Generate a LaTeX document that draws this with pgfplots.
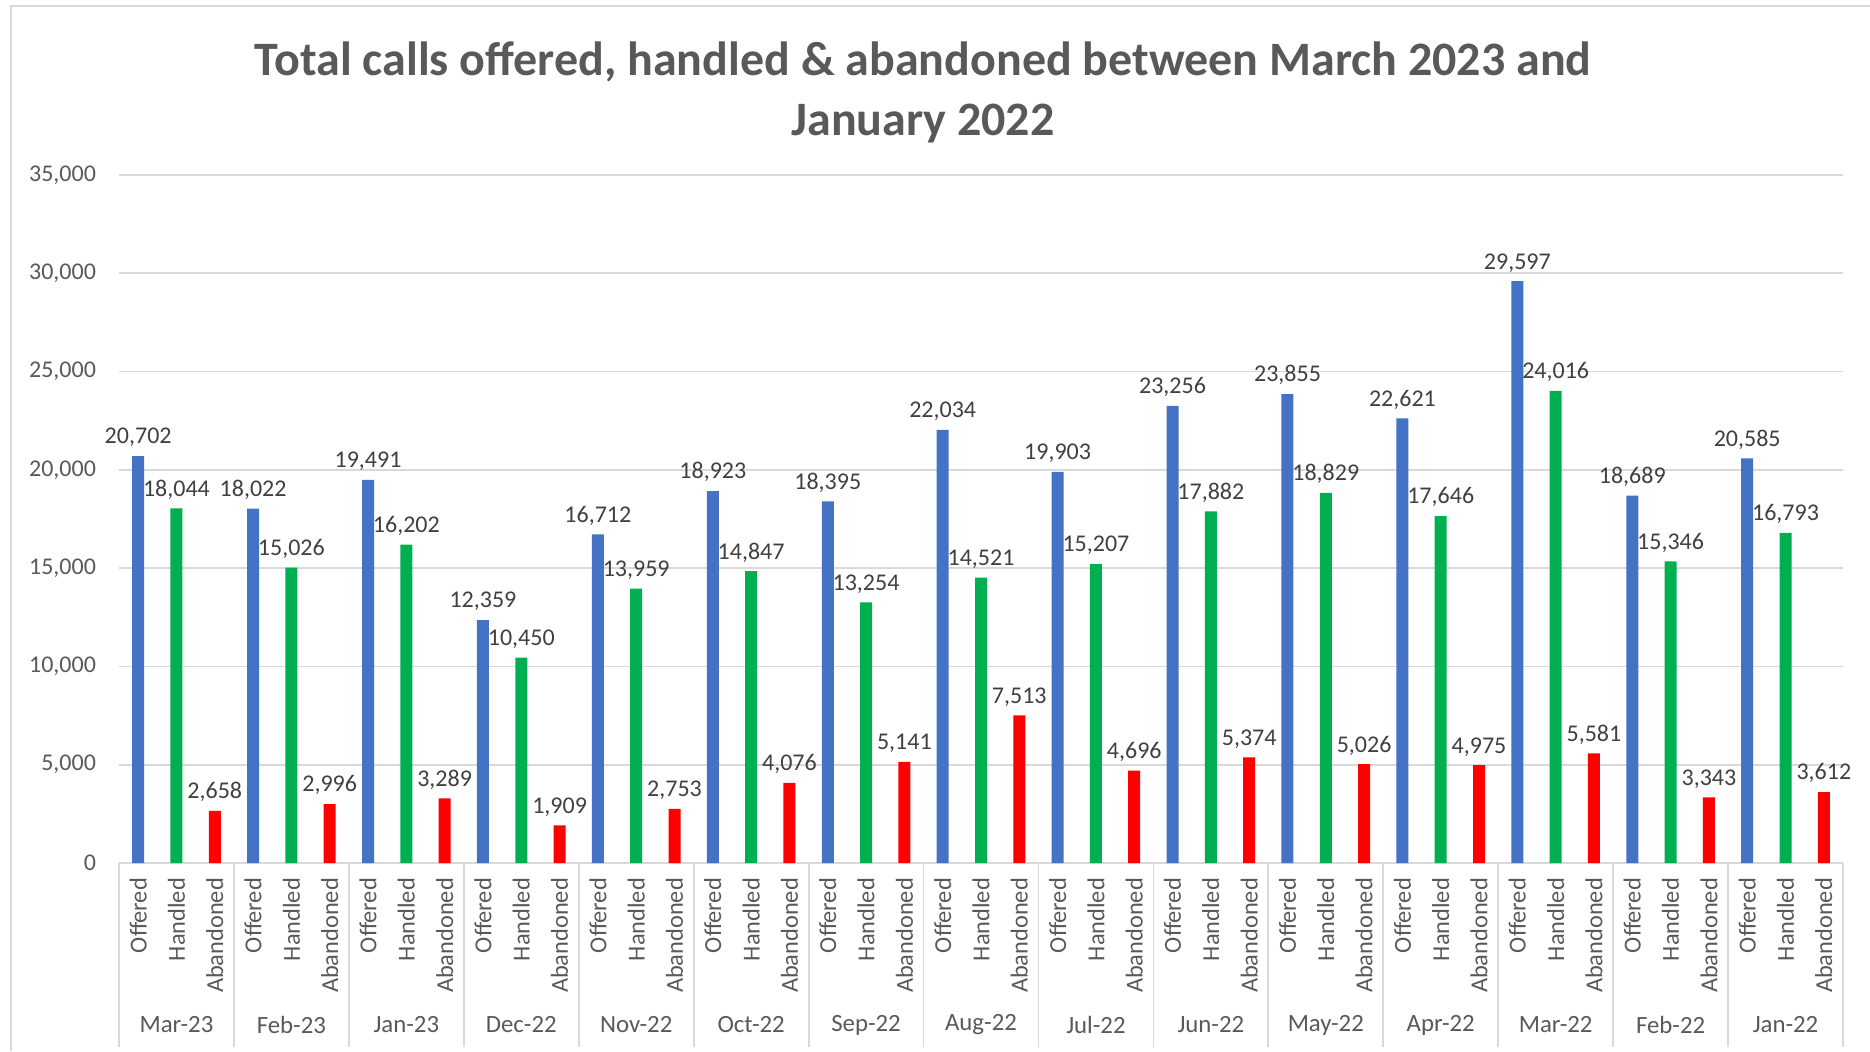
\documentclass[border=0pt]{standalone}
\usepackage{pgfplots}
\pgfplotsset{compat=1.18}
\usepackage{fontspec}
\setmainfont{Carlito}
\definecolor{cblue}{HTML}{4472C4}
\definecolor{cgreen}{HTML}{00B050}
\definecolor{cred}{HTML}{FF0000}
\definecolor{txt}{HTML}{595959}
\definecolor{grd}{HTML}{D9D9D9}
\begin{document}
\begin{tikzpicture}
\path[use as bounding box] (-59.5pt,-94pt) rectangle (875.5pt,431.5pt);
\draw[grd, line width=1.2pt] (-54pt,-94pt) -- (-54pt,428.5pt) -- (875.5pt,428.5pt);
\begin{axis}[
  at={(0pt,0pt)}, anchor=south west,
  width=862pt, height=344pt, scale only axis,
  xmin=-0.5, xmax=44.5, ymin=0, ymax=35000,
  ybar, bar width=6pt,
  axis line style={draw=none},
  ymajorgrids, grid style={grd, line width=0.9pt},
  major tick length=0pt,
  ytick={0,5000,...,35000},
  scaled y ticks=false,
  /pgf/number format/fixed,
  /pgf/number format/1000 sep={,},
  /pgf/number format/assume math mode=true,
  every y tick label/.append style={font=\fontsize{12}{14}\selectfont, text=txt, xshift=-8pt},
  xtick={0,...,44},
  xticklabels={Offered,Handled,Abandoned,Offered,Handled,Abandoned,Offered,Handled,Abandoned,Offered,Handled,Abandoned,Offered,Handled,Abandoned,Offered,Handled,Abandoned,Offered,Handled,Abandoned,Offered,Handled,Abandoned,Offered,Handled,Abandoned,Offered,Handled,Abandoned,Offered,Handled,Abandoned,Offered,Handled,Abandoned,Offered,Handled,Abandoned,Offered,Handled,Abandoned,Offered,Handled,Abandoned},
  every x tick label/.append style={font=\fontsize{12.2}{14}\selectfont, text=txt, rotate=90, anchor=east, xshift=-4pt},
  nodes near coords,
  every node near coord/.append style={font=\fontsize{12}{14}\selectfont, text=black!75, anchor=south, yshift=1pt},
  clip=false,
]
\addplot[fill=cblue, draw=none, bar shift=0pt] coordinates {
(0,20702) (3,18022) (6,19491) (9,12359) (12,16712) (15,18923) (18,18395) (21,22034) (24,19903) (27,23256) (30,23855) (33,22621) (36,29597) (39,18689) (42,20585)};
\addplot[fill=cgreen, draw=none, bar shift=0pt] coordinates {
(1,18044) (4,15026) (7,16202) (10,10450) (13,13959) (16,14847) (19,13254) (22,14521) (25,15207) (28,17882) (31,18829) (34,17646) (37,24016) (40,15346) (43,16793)};
\addplot[fill=cred, draw=none, bar shift=0pt] coordinates {
(2,2658) (5,2996) (8,3289) (11,1909) (14,2753) (17,4076) (20,5141) (23,7513) (26,4696) (29,5374) (32,5026) (35,4975) (38,5581) (41,3343) (44,3612)};
\foreach \k in {-0.5,2.5,5.5,8.5,11.5,14.5,17.5,20.5,23.5,26.5,29.5,32.5,35.5,38.5,41.5,44.5}{
  \edef\tmp{\noexpand\draw[grd, line width=0.9pt] (axis cs:\k,0) -- ([yshift=-92pt]axis cs:\k,0);}\tmp
}
\foreach \m/\c in {Mar-23/1,Feb-23/4,Jan-23/7,Dec-22/10,Nov-22/13,Oct-22/16,Sep-22/19,Aug-22/22,Jul-22/25,Jun-22/28,May-22/31,Apr-22/34,Mar-22/37,Feb-22/40,Jan-22/43}{
  \edef\tmp{\noexpand\node[font=\noexpand\fontsize{12.4}{15}\noexpand\selectfont, text=txt] at ([yshift=-81pt]axis cs:\c,0) {\m};}\tmp
}
\end{axis}
\node[font=\fontsize{24}{30}\selectfont\bfseries, text=txt, align=center] at (402pt,385.5pt) {Total calls offered, handled \& abandoned between March 2023 and\\January 2022};
\end{tikzpicture}
\end{document}
